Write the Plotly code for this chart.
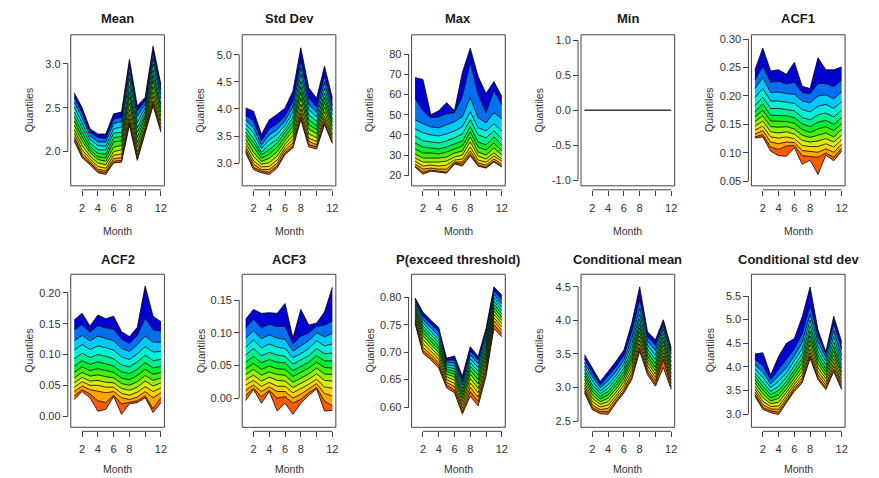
import plotly.graph_objects as go

# ---------------------------------------------------------------------------
# Data: monthly quantile curves (lowest -> highest) of each summary statistic
# ---------------------------------------------------------------------------
months = [1, 2, 3, 4, 5, 6, 7, 8, 9, 10, 11, 12]
month_ticks = [2, 4, 6, 8, 10, 12]
month_tick_text = ["2", "4", "6", "8", "", "12"]

mean_q = [
    [2.12, 1.93, 1.85, 1.76, 1.74, 1.87, 1.88, 2.30, 1.90, 2.22, 2.52, 2.22],
    [2.14, 1.95, 1.87, 1.78, 1.76, 1.89, 1.90, 2.33, 1.92, 2.24, 2.55, 2.24],
    [2.17, 1.98, 1.89, 1.80, 1.78, 1.92, 1.93, 2.37, 1.96, 2.26, 2.58, 2.27],
    [2.21, 2.02, 1.92, 1.83, 1.81, 1.96, 1.97, 2.42, 2.00, 2.28, 2.63, 2.31],
    [2.25, 2.07, 1.95, 1.87, 1.85, 2.00, 2.02, 2.48, 2.05, 2.32, 2.68, 2.35],
    [2.30, 2.12, 1.99, 1.91, 1.89, 2.05, 2.07, 2.55, 2.10, 2.35, 2.74, 2.40],
    [2.35, 2.17, 2.02, 1.94, 1.93, 2.11, 2.12, 2.62, 2.16, 2.39, 2.81, 2.45],
    [2.40, 2.22, 2.06, 1.98, 1.97, 2.16, 2.17, 2.68, 2.22, 2.42, 2.87, 2.50],
    [2.45, 2.27, 2.10, 2.02, 2.02, 2.21, 2.22, 2.75, 2.27, 2.46, 2.93, 2.54],
    [2.51, 2.33, 2.14, 2.07, 2.06, 2.26, 2.28, 2.83, 2.33, 2.50, 3.00, 2.60],
    [2.56, 2.39, 2.18, 2.11, 2.11, 2.32, 2.34, 2.90, 2.40, 2.54, 3.06, 2.65],
    [2.62, 2.44, 2.22, 2.16, 2.15, 2.37, 2.39, 2.98, 2.46, 2.58, 3.13, 2.71],
    [2.67, 2.50, 2.26, 2.20, 2.20, 2.43, 2.45, 3.05, 2.52, 2.62, 3.20, 2.76],
]

sd_q = [
    [3.19, 2.88, 2.82, 2.79, 2.91, 3.16, 3.28, 3.80, 3.30, 3.26, 3.71, 3.36],
    [3.22, 2.92, 2.85, 2.83, 2.95, 3.19, 3.32, 3.85, 3.34, 3.30, 3.75, 3.39],
    [3.26, 2.98, 2.88, 2.88, 3.00, 3.24, 3.37, 3.92, 3.40, 3.34, 3.81, 3.44],
    [3.31, 3.04, 2.93, 2.94, 3.06, 3.29, 3.44, 4.00, 3.46, 3.40, 3.87, 3.49],
    [3.37, 3.12, 2.98, 3.01, 3.13, 3.35, 3.51, 4.09, 3.54, 3.47, 3.95, 3.54],
    [3.44, 3.20, 3.03, 3.09, 3.21, 3.42, 3.60, 4.20, 3.63, 3.54, 4.03, 3.61],
    [3.51, 3.29, 3.09, 3.17, 3.29, 3.49, 3.68, 4.31, 3.71, 3.62, 4.12, 3.68],
    [3.57, 3.38, 3.15, 3.25, 3.37, 3.56, 3.76, 4.41, 3.80, 3.69, 4.21, 3.75],
    [3.64, 3.46, 3.20, 3.34, 3.44, 3.62, 3.85, 4.52, 3.89, 3.77, 4.29, 3.81],
    [3.71, 3.56, 3.27, 3.43, 3.53, 3.70, 3.94, 4.64, 3.99, 3.85, 4.39, 3.89],
    [3.79, 3.66, 3.33, 3.52, 3.62, 3.78, 4.04, 4.76, 4.08, 3.94, 4.49, 3.96],
    [3.88, 3.78, 3.41, 3.63, 3.73, 3.87, 4.15, 4.90, 4.20, 4.04, 4.61, 4.06],
    [4.02, 3.96, 3.53, 3.80, 3.90, 4.02, 4.33, 5.13, 4.39, 4.20, 4.79, 4.20],
]

max_q = [
    [24.0, 20.5, 22.0, 21.5, 21.0, 25.5, 24.5, 29.5, 24.5, 23.5, 26.5, 24.0],
    [24.5, 21.5, 22.5, 22.0, 21.5, 26.0, 25.5, 30.5, 25.0, 24.0, 27.0, 24.5],
    [25.5, 23.0, 23.5, 23.0, 23.0, 26.5, 26.5, 32.0, 26.0, 25.0, 28.0, 25.5],
    [27.0, 24.5, 25.0, 24.5, 25.0, 27.5, 28.0, 34.0, 27.5, 26.5, 29.5, 27.0],
    [28.5, 26.5, 26.5, 26.5, 27.0, 29.0, 30.0, 36.5, 29.5, 28.0, 31.0, 28.0],
    [30.5, 28.5, 28.5, 28.5, 29.0, 31.0, 32.0, 39.0, 31.5, 30.0, 33.5, 30.0],
    [33.0, 31.0, 31.0, 30.5, 31.5, 33.0, 34.5, 41.5, 34.0, 32.5, 36.0, 32.0],
    [36.0, 34.0, 33.5, 33.0, 34.0, 35.5, 37.0, 44.0, 36.5, 35.0, 39.0, 35.0],
    [39.5, 37.0, 36.5, 36.0, 37.0, 38.5, 40.5, 47.5, 40.0, 38.5, 42.0, 38.0],
    [43.0, 41.0, 40.0, 39.5, 40.5, 42.0, 44.0, 51.5, 43.5, 42.0, 45.5, 42.0],
    [47.5, 45.5, 44.0, 43.5, 45.0, 46.5, 49.0, 58.5, 48.5, 46.0, 51.0, 48.0],
    [58.0, 52.0, 48.5, 49.0, 50.5, 51.0, 59.0, 76.0, 60.0, 51.0, 62.0, 55.0],
    [68.5, 67.5, 50.0, 52.0, 56.0, 52.0, 71.0, 83.0, 69.0, 60.5, 66.5, 59.0],
]

min_q = [
    [0, 0, 0, 0, 0, 0, 0, 0, 0, 0, 0, 0],
]

acf1_q = [
    [.126, .128, .103, .095, .094, .109, .080, .087, .062, .096, .086, .103],
    [.128, .132, .110, .106, .112, .113, .095, .093, .092, .100, .092, .108],
    [.133, .139, .119, .116, .119, .118, .104, .102, .101, .107, .101, .115],
    [.140, .147, .128, .126, .128, .125, .113, .111, .111, .116, .110, .123],
    [.147, .156, .137, .135, .137, .133, .122, .119, .121, .125, .119, .131],
    [.155, .165, .146, .145, .146, .142, .131, .127, .131, .135, .128, .141],
    [.163, .175, .156, .155, .155, .152, .141, .136, .142, .146, .139, .151],
    [.172, .186, .166, .166, .165, .162, .151, .146, .154, .157, .150, .162],
    [.183, .198, .178, .178, .176, .174, .162, .158, .167, .170, .163, .175],
    [.197, .213, .191, .191, .189, .187, .176, .172, .182, .185, .178, .190],
    [.213, .232, .206, .207, .204, .203, .191, .188, .200, .202, .195, .207],
    [.228, .252, .224, .226, .221, .224, .206, .204, .222, .222, .216, .228],
    [.246, .284, .244, .246, .238, .259, .217, .213, .267, .246, .246, .251],
]

acf2_q = [
    [.027, .040, .030, .008, .011, .032, .003, .020, .022, .030, .006, .022],
    [.033, .043, .036, .025, .022, .034, .020, .022, .025, .033, .012, .030],
    [.040, .049, .043, .041, .038, .040, .030, .027, .031, .040, .030, .038],
    [.047, .056, .050, .050, .047, .047, .037, .034, .039, .048, .040, .046],
    [.054, .063, .057, .058, .055, .054, .045, .042, .047, .057, .049, .054],
    [.062, .071, .065, .067, .064, .062, .053, .050, .056, .066, .058, .062],
    [.071, .080, .074, .077, .074, .071, .062, .059, .066, .076, .068, .071],
    [.081, .090, .084, .088, .085, .081, .072, .069, .076, .087, .078, .081],
    [.093, .102, .095, .100, .097, .093, .083, .080, .088, .099, .090, .092],
    [.107, .116, .108, .114, .111, .107, .096, .092, .101, .113, .104, .105],
    [.122, .131, .122, .130, .126, .122, .110, .105, .116, .130, .120, .120],
    [.140, .148, .136, .147, .143, .141, .125, .118, .131, .159, .140, .138],
    [.156, .167, .146, .164, .158, .162, .137, .129, .144, .211, .162, .153],
]

acf3_q = [
    [-.004, .013, -.008, .010, -.020, -.008, -.025, -.008, .004, .014, -.020, -.019],
    [.004, .015, .002, .012, .000, .002, -.008, -.002, .008, .016, -.005, -.012],
    [.012, .020, .010, .017, .010, .010, .000, .006, .014, .022, .007, .003],
    [.020, .027, .018, .024, .018, .018, .008, .014, .021, .029, .017, .015],
    [.028, .035, .026, .032, .027, .026, .016, .022, .029, .037, .027, .026],
    [.036, .044, .035, .040, .036, .035, .024, .030, .037, .046, .037, .036],
    [.045, .053, .044, .049, .045, .044, .033, .039, .046, .055, .047, .046],
    [.055, .064, .054, .059, .055, .054, .042, .048, .055, .065, .057, .057],
    [.066, .076, .065, .070, .066, .064, .052, .058, .065, .076, .068, .069],
    [.078, .089, .077, .083, .078, .076, .062, .068, .076, .088, .080, .083],
    [.092, .103, .091, .097, .092, .090, .072, .080, .088, .100, .094, .099],
    [.107, .121, .108, .113, .110, .110, .083, .095, .100, .110, .112, .118],
    [.121, .136, .130, .131, .130, .145, .092, .136, .112, .115, .132, .170],
]

pexc_q = [
    [.752, .698, .686, .671, .635, .626, .587, .620, .602, .656, .743, .728],
    [.756, .703, .691, .676, .640, .631, .592, .628, .610, .663, .750, .734],
    [.760, .709, .696, .681, .645, .637, .598, .636, .618, .670, .757, .740],
    [.764, .716, .702, .687, .650, .643, .604, .644, .626, .677, .763, .746],
    [.768, .723, .708, .693, .655, .649, .610, .652, .634, .684, .769, .752],
    [.772, .730, .714, .699, .660, .655, .616, .660, .642, .691, .775, .758],
    [.776, .736, .720, .705, .665, .660, .622, .667, .650, .698, .781, .764],
    [.780, .742, .726, .711, .669, .665, .628, .674, .658, .705, .787, .770],
    [.784, .748, .732, .717, .673, .670, .634, .681, .665, .712, .793, .776],
    [.788, .754, .738, .723, .677, .675, .640, .688, .672, .719, .799, .782],
    [.792, .760, .744, .730, .681, .680, .645, .695, .679, .726, .805, .788],
    [.796, .766, .751, .738, .685, .686, .650, .702, .686, .735, .812, .796],
    [.799, .773, .758, .745, .689, .693, .656, .710, .692, .743, .819, .804],
]

cmean_q = [
    [2.92, 2.67, 2.61, 2.60, 2.77, 2.92, 3.12, 3.54, 3.19, 3.02, 3.30, 2.97],
    [2.95, 2.70, 2.64, 2.64, 2.80, 2.95, 3.16, 3.59, 3.23, 3.06, 3.42, 3.01],
    [2.99, 2.74, 2.67, 2.69, 2.84, 2.99, 3.21, 3.65, 3.27, 3.10, 3.47, 3.06],
    [3.03, 2.79, 2.71, 2.74, 2.88, 3.04, 3.27, 3.71, 3.32, 3.15, 3.52, 3.11],
    [3.07, 2.84, 2.75, 2.79, 2.93, 3.09, 3.33, 3.77, 3.37, 3.20, 3.57, 3.16],
    [3.12, 2.89, 2.79, 2.84, 2.98, 3.14, 3.39, 3.83, 3.42, 3.25, 3.63, 3.21],
    [3.17, 2.94, 2.83, 2.89, 3.03, 3.19, 3.45, 3.89, 3.47, 3.30, 3.69, 3.27],
    [3.22, 2.99, 2.87, 2.94, 3.08, 3.24, 3.51, 3.95, 3.52, 3.36, 3.75, 3.32],
    [3.27, 3.04, 2.91, 2.99, 3.13, 3.29, 3.58, 4.02, 3.57, 3.42, 3.81, 3.38],
    [3.32, 3.10, 2.95, 3.04, 3.18, 3.35, 3.65, 4.09, 3.63, 3.48, 3.87, 3.44],
    [3.37, 3.16, 3.00, 3.10, 3.24, 3.41, 3.73, 4.18, 3.69, 3.55, 3.92, 3.50],
    [3.43, 3.22, 3.04, 3.17, 3.31, 3.48, 3.84, 4.32, 3.76, 3.63, 3.97, 3.55],
    [3.49, 3.29, 3.09, 3.24, 3.39, 3.56, 3.96, 4.50, 3.83, 3.71, 4.01, 3.59],
]

csd_q = [
    [3.38, 3.10, 3.03, 2.99, 3.24, 3.48, 3.66, 4.18, 3.73, 3.52, 3.90, 3.52],
    [3.42, 3.14, 3.07, 3.04, 3.28, 3.52, 3.71, 4.23, 3.77, 3.56, 3.95, 3.56],
    [3.47, 3.20, 3.11, 3.10, 3.33, 3.57, 3.77, 4.30, 3.83, 3.62, 4.02, 3.62],
    [3.53, 3.27, 3.16, 3.17, 3.39, 3.63, 3.84, 4.38, 3.90, 3.68, 4.09, 3.68],
    [3.59, 3.35, 3.22, 3.25, 3.46, 3.70, 3.92, 4.47, 3.98, 3.75, 4.17, 3.75],
    [3.66, 3.43, 3.28, 3.33, 3.53, 3.77, 4.00, 4.56, 4.06, 3.82, 4.25, 3.82],
    [3.73, 3.51, 3.34, 3.41, 3.61, 3.85, 4.09, 4.66, 4.14, 3.89, 4.34, 3.89],
    [3.80, 3.59, 3.41, 3.50, 3.69, 3.93, 4.18, 4.76, 4.23, 3.96, 4.43, 3.97],
    [3.87, 3.68, 3.48, 3.59, 3.78, 4.02, 4.28, 4.87, 4.32, 4.04, 4.53, 4.05],
    [3.95, 3.78, 3.56, 3.69, 3.87, 4.12, 4.39, 4.99, 4.42, 4.12, 4.64, 4.14],
    [4.04, 3.89, 3.64, 3.80, 3.98, 4.23, 4.52, 5.12, 4.53, 4.20, 4.76, 4.24],
    [4.16, 4.03, 3.73, 3.95, 4.15, 4.38, 4.70, 5.30, 4.65, 4.27, 4.91, 4.38],
    [4.27, 4.30, 3.83, 4.22, 4.50, 4.60, 5.06, 5.69, 4.78, 4.32, 5.07, 4.53],
]

titles = ["Mean", "Std Dev", "Max", "Min", "ACF1",
          "ACF2", "ACF3", "P(exceed threshold)", "Conditional mean", "Conditional std dev"]
quantile_sets = [mean_q, sd_q, max_q, min_q, acf1_q,
                 acf2_q, acf3_q, pexc_q, cmean_q, csd_q]
y_ticks = [
    [2.0, 2.5, 3.0],
    [3.0, 3.5, 4.0, 4.5, 5.0],
    [20, 30, 40, 50, 60, 70, 80],
    [-1.0, -0.5, 0.0, 0.5, 1.0],
    [0.05, 0.10, 0.15, 0.20, 0.25, 0.30],
    [0.00, 0.05, 0.10, 0.15, 0.20],
    [0.00, 0.05, 0.10, 0.15],
    [0.60, 0.65, 0.70, 0.75, 0.80],
    [2.5, 3.0, 3.5, 4.0, 4.5],
    [3.0, 3.5, 4.0, 4.5, 5.0, 5.5],
]
y_tick_decimals = [1, 1, 0, 1, 2, 2, 2, 2, 1, 1]

# ---------------------------------------------------------------------------
# Styling / layout
# ---------------------------------------------------------------------------
W, H = 879, 478
y_ranges = [
    (1.61, 3.33), (2.58, 5.37), (14.7, 89.7), (-1.08, 1.08), (0.042, 0.3075),
    (-0.018, 0.230), (-0.045, 0.19), (0.563, 0.842), (2.407, 4.688), (2.72, 5.96),
]
band_colors = ["#FF5A00", "#FFA500", "#FFD200", "#D8F000", "#98F000", "#40F000",
               "#00F030", "#00F090", "#00F0D8", "#00C8F8", "#0070F0", "#0000D0"]
col_left = [71, 243, 413, 583, 754]
box_w = 94
rows = [(33, 185), (274, 428)]
title_y = [17, 259]
xlab_y = [230, 470]
FONT = "Liberation Sans, Arial, sans-serif"
AX = "#444444"
TXT = "#333333"


def fx(p):
    return p / W


def fy(p):
    return 1 - p / H


fig = go.Figure()
layout = {}
shapes = []
annotations = []

for k, (title, qs) in enumerate(zip(titles, quantile_sets)):
    r, c = divmod(k, 5)
    n = k + 1
    xa, ya = ("x", "y") if n == 1 else (f"x{n}", f"y{n}")
    xkey, ykey = ("xaxis", "yaxis") if n == 1 else (f"xaxis{n}", f"yaxis{n}")
    left = col_left[c]
    right = left + box_w
    top, bot = rows[r]

    # fan of quantile bands, each bounded by black curves
    if len(qs) == 1:
        fig.add_trace(go.Scatter(x=months, y=qs[0], xaxis=xa, yaxis=ya, mode="lines",
                                 line=dict(color="#3a3a3a", width=1.6),
                                 hoverinfo="skip", showlegend=False))
    else:
        for i, row in enumerate(qs):
            fig.add_trace(go.Scatter(
                x=months, y=row, xaxis=xa, yaxis=ya, mode="lines",
                line=dict(color="black", width=0.8),
                fill="tonexty" if i else "none",
                fillcolor=band_colors[i - 1] if i else None,
                hoverinfo="skip", showlegend=False))

    ticks = y_ticks[k]
    dec = y_tick_decimals[k]
    tick_text = [f"{v:.{dec}f}" for v in ticks]

    x_axis_pos = fy(bot + 4)
    y_axis_pos = fx(left - 3)

    layout[xkey] = dict(
        domain=[fx(left), fx(right)], range=[0.56, 12.44], anchor="free",
        position=x_axis_pos, tickmode="array", tickvals=month_ticks,
        ticktext=month_tick_text, ticks="outside", ticklen=5, tickwidth=1,
        tickcolor=AX, showgrid=False, zeroline=False, showline=False,
        ticklabelstandoff=3, tickfont=dict(family=FONT, size=11, color=TXT),
        fixedrange=True)
    layout[ykey] = dict(
        domain=[fy(bot), fy(top)], range=list(y_ranges[k]), anchor="free",
        position=y_axis_pos, tickmode="array", tickvals=ticks, ticktext=tick_text,
        ticks="outside", ticklen=5, tickwidth=1, tickcolor=AX, showgrid=False,
        zeroline=False, showline=False,
        tickfont=dict(family=FONT, size=11, color=TXT), fixedrange=True)

    # plot frame
    shapes.append(dict(type="rect", xref="paper", yref="paper",
                       x0=fx(left), x1=fx(right), y0=fy(bot), y1=fy(top),
                       line=dict(color=AX, width=1), layer="above"))
    # axis lines spanning first to last tick
    shapes.append(dict(type="line", xref=xa, yref="paper",
                       x0=month_ticks[0], x1=month_ticks[-1],
                       y0=x_axis_pos, y1=x_axis_pos, line=dict(color=AX, width=1)))
    shapes.append(dict(type="line", xref="paper", yref=ya,
                       x0=y_axis_pos, x1=y_axis_pos, y0=ticks[0], y1=ticks[-1],
                       line=dict(color=AX, width=1)))

    annotations.append(dict(text=f"<b>{title}</b>", x=fx((left + right) / 2),
                            y=fy(title_y[r]), xref="paper", yref="paper",
                            xanchor="center", yanchor="middle", showarrow=False,
                            font=dict(family=FONT, size=13, color="#1a1a1a")))
    annotations.append(dict(text="Month", x=fx((left + right) / 2), y=fy(xlab_y[r]),
                            xref="paper", yref="paper", xanchor="center",
                            yanchor="middle", showarrow=False,
                            font=dict(family=FONT, size=10.5, color=TXT)))
    annotations.append(dict(text="Quantiles", x=fx(left - 42), y=fy((top + bot) / 2),
                            xref="paper", yref="paper", xanchor="center",
                            yanchor="middle", textangle=-90, showarrow=False,
                            font=dict(family=FONT, size=10.5, color=TXT)))

fig.update_layout(
    width=W, height=H, margin=dict(l=0, r=0, t=0, b=0),
    paper_bgcolor="white", plot_bgcolor="white", showlegend=False,
    shapes=shapes, annotations=annotations, **layout)

fig.write_html("out.html")
